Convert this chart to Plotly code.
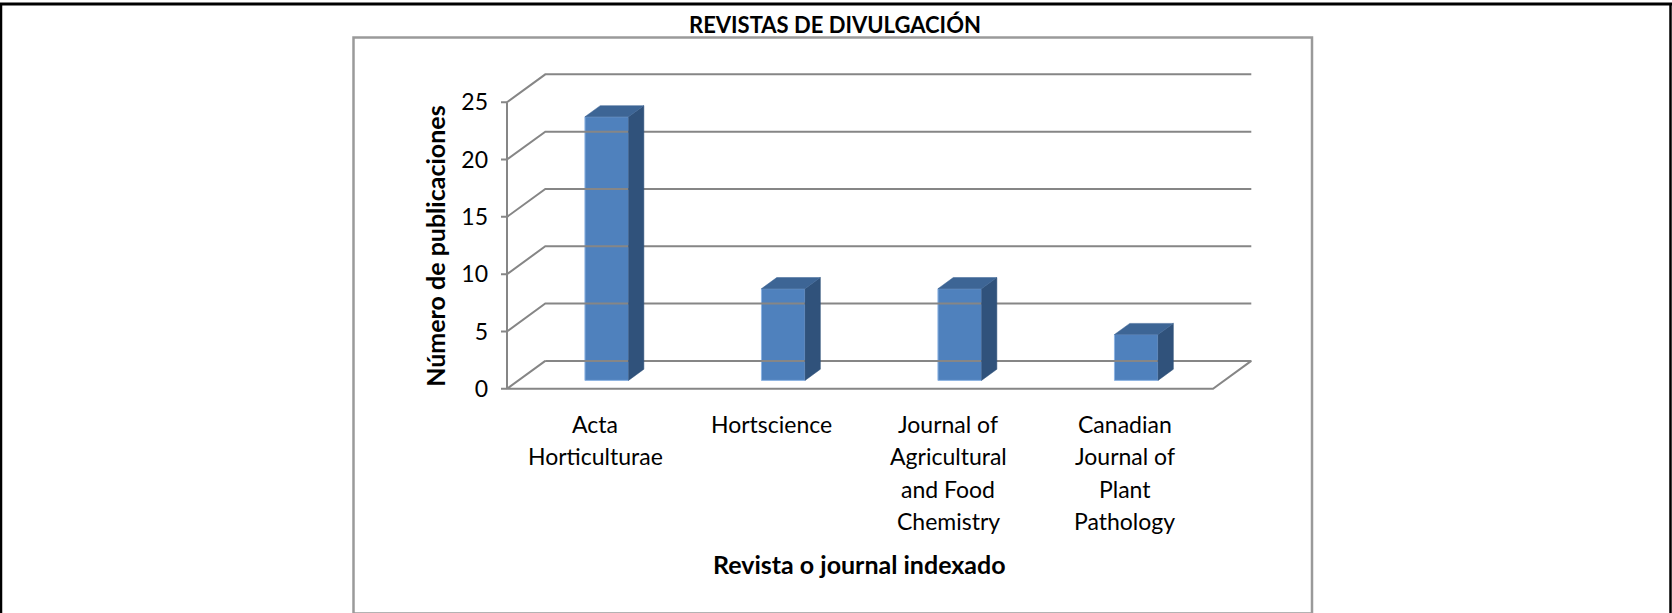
import plotly.graph_objects as go

# ---------------- data ----------------
categories = ["Acta Horticulturae", "Hortscience",
              "Journal of Agricultural and Food Chemistry",
              "Canadian Journal of Plant Pathology"]
category_lines = [["Acta", "Horticulturae"],
                  ["Hortscience"],
                  ["Journal of", "Agricultural", "and Food", "Chemistry"],
                  ["Canadian", "Journal of", "Plant", "Pathology"]]
publicaciones = [23, 8, 8, 4]
y_ticks = [0, 5, 10, 15, 20, 25]
title_text = "REVISTAS DE DIVULGACIÓN"
y_title = "Número de publicaciones"
x_title = "Revista o journal indexado"

# ---------------- geometry (reference pixels) ----------------
W, H = 1672, 613                  # reference coordinate frame
H_FIG = 621                       # rendered figure height
FX0, FX1 = 507.0, 1213.0          # front floor left / right
FY0 = 387.5                       # pixel of value 0 on the front plane
PXY = 11.424                      # pixels per unit (y)
DDX, DDY = 38.3, 27.8             # depth offset of back wall (px)
DOM_L, DOM_R = 495.0, 1256.0      # plot domain in px
DOM_T, DOM_B = 66.0, 394.0

n = len(categories)
PXX = (FX1 - FX0) / n             # pixels per category unit
dxu = DDX / PXX                   # depth offset in x units
dyu = DDY / PXY                   # depth offset in y units
xmin = -0.5 - (FX0 - DOM_L) / PXX
xmax = -0.5 + (DOM_R - FX0) / PXX
ymin = -(DOM_B - FY0) / PXY
ymax = (FY0 - DOM_T) / PXY

GRID = "#868686"
FONT = "Lato"

fig = go.Figure()

def seg(xs, ys, color=GRID, width=2):
    fig.add_trace(go.Scatter(x=xs, y=ys, mode="lines", hoverinfo="skip",
                             line=dict(color=color, width=width),
                             showlegend=False))

left = -0.5
right = n - 0.5
# back wall gridlines + side-wall diagonals
for v in y_ticks:
    if v == 0:
        seg([left + dxu, right + dxu, right, left, left + dxu],
            [v + dyu, v + dyu, v, v, v + dyu])
    else:
        seg([left, left + dxu, right + dxu], [v, v + dyu, v + dyu])
# front vertical axis line
seg([left, left], [0, y_ticks[-1]])
# tick marks
tk = 6.0 / PXX
for v in y_ticks:
    seg([left - tk, left], [v, v])

# ---------------- 3D-looking bars ----------------
f_front = 0.30
f_depth = 0.40
bw = 43.6 / PXX
bx_off = f_front * dxu
base = f_front * dyu
bdx = f_depth * dxu
bdy = f_depth * dyu
FRONT = "#4F81BD"
SIDE = "#30527B"
TOP = "#3D6595"

xc = [i + bx_off for i in range(n)]
fig.add_trace(go.Bar(x=xc, y=publicaciones, base=[base] * n, width=bw,
                     marker=dict(color=FRONT, line=dict(color="#8DB3E2", width=1)),
                     showlegend=False, hoverinfo="skip"))
for i, v in enumerate(publicaciones):
    xl = xc[i] - bw / 2
    xr = xc[i] + bw / 2
    top = base + v
    fig.add_trace(go.Scatter(x=[xr, xr + bdx, xr + bdx, xr, xr],
                             y=[base, base + bdy, top + bdy, top, base],
                             fill="toself", fillcolor=SIDE, mode="lines",
                             line=dict(color=SIDE, width=0.5),
                             showlegend=False, hoverinfo="skip"))
    fig.add_trace(go.Scatter(x=[xl, xl + bdx, xr + bdx, xr, xl],
                             y=[top, top + bdy, top + bdy, top, top],
                             fill="toself", fillcolor=TOP, mode="lines",
                             line=dict(color=TOP, width=0.5),
                             showlegend=False, hoverinfo="skip"))

# invisible trace to activate pixel overlay axes
fig.add_trace(go.Scatter(x=[0], y=[0], xaxis="x2", yaxis="y2", mode="markers",
                         marker=dict(opacity=0), showlegend=False, hoverinfo="skip"))

# ---------------- annotations ----------------
ann = []
ann.append(dict(text="<b>" + title_text + "</b>", x=835, y=24, xref="x2", yref="y2",
                showarrow=False, font=dict(family=FONT, size=22, color="black")))
ann.append(dict(text="<b>" + y_title + "</b>", x=435, y=246, xref="x2", yref="y2",
                textangle=-90, showarrow=False,
                font=dict(family=FONT, size=25, color="black")))
ann.append(dict(text="<b>" + x_title + "</b>", x=859, y=562, xref="x2", yref="y2",
                showarrow=False, font=dict(family=FONT, size=25, color="black")))
line_y0, line_dy = 423.0, 32.0
for i, lines in enumerate(category_lines):
    for j, t in enumerate(lines):
        ann.append(dict(text=t, x=i, y=line_y0 + j * line_dy, xref="x", yref="y2",
                        showarrow=False, xanchor="center", yanchor="middle",
                        font=dict(family=FONT, size=23, color="black")))

# ---------------- frame shapes ----------------
shapes = [
    dict(type="line", x0=0, x1=W, y0=4, y1=4, xref="x2", yref="y2",
         line=dict(color="black", width=3)),
    dict(type="line", x0=1, x1=1, y0=3, y1=H, xref="x2", yref="y2",
         line=dict(color="black", width=2.5)),
    dict(type="line", x0=1670.5, x1=1670.5, y0=3, y1=H, xref="x2", yref="y2",
         line=dict(color="black", width=2.5)),
    dict(type="rect", x0=353.5, x1=1312, y0=37.5, y1=611.5, xref="x2", yref="y2",
         line=dict(color="#9A9A9A", width=2.5)),
]

fig.update_layout(
    width=W, height=H_FIG, autosize=False,
    margin=dict(l=0, r=0, t=0, b=0, pad=0),
    paper_bgcolor="white", plot_bgcolor="rgba(0,0,0,0)",
    showlegend=False, barmode="overlay",
    annotations=ann, shapes=shapes,
    xaxis=dict(domain=[DOM_L / W, DOM_R / W], range=[xmin, xmax],
               showgrid=False, zeroline=False, showline=False,
               showticklabels=False, ticks="", fixedrange=True),
    yaxis=dict(domain=[(H - DOM_B) / H, (H - DOM_T) / H], range=[ymin, ymax],
               tickvals=y_ticks, ticktext=[str(v) for v in y_ticks],
               showgrid=False, zeroline=False, showline=False, ticks="",
               ticklabelstandoff=6,
               tickfont=dict(family=FONT, size=23, color="black"), fixedrange=True),
    xaxis2=dict(domain=[0, 1], range=[0, W], anchor="y2", visible=False, fixedrange=True),
    yaxis2=dict(domain=[0, 1], range=[H, 0], anchor="x2", visible=False, fixedrange=True),
)

page_css = ("var d=document.documentElement,b=document.body;"
            "d.style.margin='0';d.style.padding='0';d.style.overflow='hidden';"
            "b.style.margin='0';b.style.padding='0';b.style.overflow='hidden';")

fig.write_html("out.html", config={"displayModeBar": False, "staticPlot": True},
               post_script=page_css)
